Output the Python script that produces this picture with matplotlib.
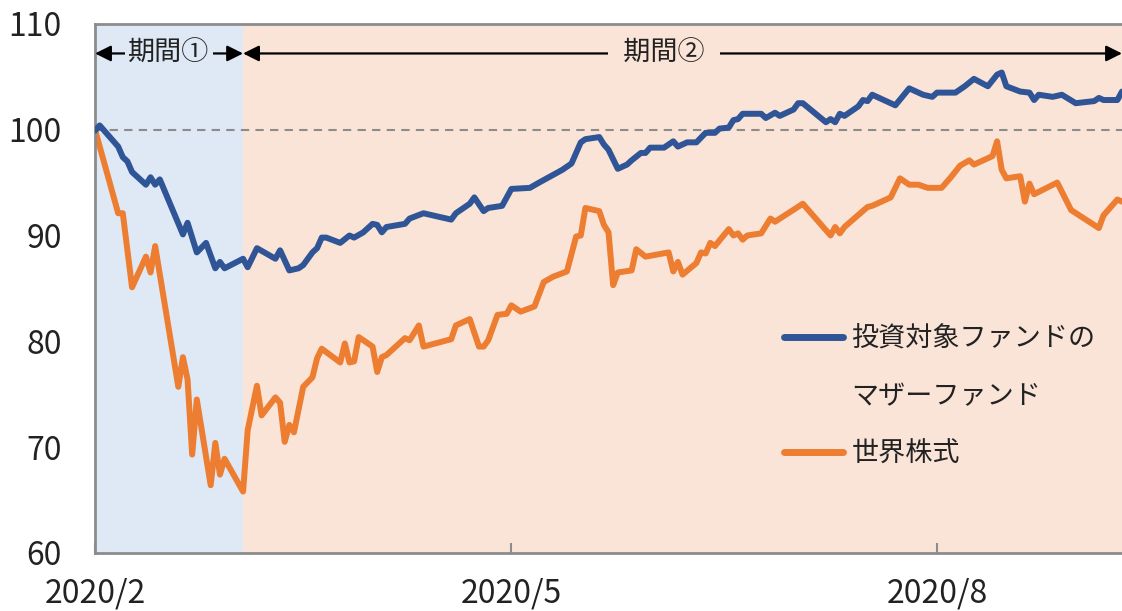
import matplotlib.pyplot as plt
from matplotlib.lines import Line2D
import pandas as pd

plt.rcParams['font.family'] = ['Noto Sans CJK JP', 'DejaVu Sans']

# series (base = 100)
fund_dates = [
    "2020-02-01", "2020-02-02", "2020-02-06", "2020-02-07", "2020-02-08", "2020-02-09",
    "2020-02-12", "2020-02-13", "2020-02-14", "2020-02-15", "2020-02-20", "2020-02-21",
    "2020-02-23", "2020-02-25", "2020-02-27", "2020-02-28", "2020-02-29", "2020-03-04",
    "2020-03-05", "2020-03-07", "2020-03-11", "2020-03-12", "2020-03-14", "2020-03-16",
    "2020-03-17", "2020-03-19", "2020-03-20", "2020-03-21", "2020-03-22", "2020-03-25",
    "2020-03-27", "2020-03-28", "2020-03-30", "2020-04-01", "2020-04-02", "2020-04-03",
    "2020-04-04", "2020-04-08", "2020-04-09", "2020-04-12", "2020-04-18", "2020-04-19",
    "2020-04-22", "2020-04-23", "2020-04-25", "2020-04-26", "2020-04-29", "2020-05-01",
    "2020-05-05", "2020-05-07", "2020-05-12", "2020-05-14", "2020-05-16", "2020-05-17",
    "2020-05-20", "2020-05-21", "2020-05-22", "2020-05-24", "2020-05-26", "2020-05-27",
    "2020-05-29", "2020-05-30", "2020-05-31", "2020-06-03", "2020-06-05", "2020-06-06",
    "2020-06-08", "2020-06-10", "2020-06-12", "2020-06-14", "2020-06-15", "2020-06-17",
    "2020-06-18", "2020-06-19", "2020-06-20", "2020-06-24", "2020-06-25", "2020-06-27",
    "2020-06-28", "2020-07-01", "2020-07-02", "2020-07-03", "2020-07-08", "2020-07-09",
    "2020-07-10", "2020-07-11", "2020-07-12", "2020-07-15", "2020-07-16", "2020-07-17",
    "2020-07-18", "2020-07-23", "2020-07-26", "2020-07-29", "2020-07-31", "2020-08-01",
    "2020-08-05", "2020-08-07", "2020-08-09", "2020-08-12", "2020-08-14", "2020-08-15",
    "2020-08-16", "2020-08-19", "2020-08-21", "2020-08-22", "2020-08-23", "2020-08-26",
    "2020-08-28", "2020-08-31", "2020-09-04", "2020-09-05", "2020-09-06", "2020-09-09",
    "2020-09-10",
]
fund_values = [
    99.9, 100.4, 98.4, 97.4, 97.0, 96.0,
    94.8, 95.5, 94.8, 95.3, 90.1, 91.2,
    88.4, 89.3, 86.9, 87.5, 86.9, 87.8,
    87.0, 88.8, 87.8, 88.6, 86.7, 86.9,
    87.2, 88.4, 88.8, 89.8, 89.8, 89.3,
    90.0, 89.8, 90.3, 91.1, 91.0, 90.3,
    90.8, 91.1, 91.6, 92.1, 91.5, 92.1,
    93.0, 93.6, 92.3, 92.6, 92.8, 94.4,
    94.5, 95.0, 96.2, 96.8, 98.8, 99.1,
    99.3, 98.6, 98.1, 96.3, 96.7, 97.1,
    97.8, 97.8, 98.3, 98.3, 98.9, 98.4,
    98.8, 98.8, 99.7, 99.7, 100.1, 100.2,
    100.9, 101.0, 101.5, 101.5, 101.1, 101.6,
    101.3, 101.9, 102.5, 102.5, 100.7, 101.0,
    100.7, 101.5, 101.3, 102.2, 102.8, 102.7,
    103.3, 102.3, 103.9, 103.3, 103.1, 103.5,
    103.5, 104.1, 104.8, 104.1, 105.2, 105.4,
    104.1, 103.6, 103.5, 102.8, 103.3, 103.1,
    103.3, 102.5, 102.7, 103.0, 102.8, 102.8,
    103.6,
]

world_dates = [
    "2020-02-01", "2020-02-06", "2020-02-07", "2020-02-09", "2020-02-12", "2020-02-13",
    "2020-02-14", "2020-02-19", "2020-02-20", "2020-02-21", "2020-02-22", "2020-02-23",
    "2020-02-26", "2020-02-27", "2020-02-28", "2020-02-29", "2020-03-04", "2020-03-05",
    "2020-03-07", "2020-03-08", "2020-03-11", "2020-03-12", "2020-03-13", "2020-03-14",
    "2020-03-15", "2020-03-17", "2020-03-19", "2020-03-20", "2020-03-21", "2020-03-25",
    "2020-03-26", "2020-03-27", "2020-03-28", "2020-03-29", "2020-04-01", "2020-04-02",
    "2020-04-03", "2020-04-04", "2020-04-08", "2020-04-09", "2020-04-11", "2020-04-12",
    "2020-04-18", "2020-04-19", "2020-04-22", "2020-04-24", "2020-04-25", "2020-04-26",
    "2020-04-28", "2020-04-30", "2020-05-01", "2020-05-03", "2020-05-06", "2020-05-08",
    "2020-05-10", "2020-05-13", "2020-05-15", "2020-05-16", "2020-05-17", "2020-05-20",
    "2020-05-21", "2020-05-22", "2020-05-23", "2020-05-24", "2020-05-27", "2020-05-28",
    "2020-05-30", "2020-06-04", "2020-06-05", "2020-06-06", "2020-06-07", "2020-06-10",
    "2020-06-11", "2020-06-12", "2020-06-13", "2020-06-14", "2020-06-17", "2020-06-18",
    "2020-06-19", "2020-06-20", "2020-06-21", "2020-06-24", "2020-06-26", "2020-06-27",
    "2020-07-03", "2020-07-09", "2020-07-10", "2020-07-11", "2020-07-12", "2020-07-17",
    "2020-07-18", "2020-07-22", "2020-07-24", "2020-07-26", "2020-07-28", "2020-07-30",
    "2020-08-02", "2020-08-04", "2020-08-06", "2020-08-08", "2020-08-09", "2020-08-13",
    "2020-08-14", "2020-08-15", "2020-08-16", "2020-08-19", "2020-08-20", "2020-08-21",
    "2020-08-22", "2020-08-27", "2020-08-30", "2020-09-05", "2020-09-06", "2020-09-09",
    "2020-09-10",
]
world_values = [
    100.0, 92.1, 92.1, 85.1, 88.0, 86.5,
    89.0, 75.7, 78.5, 76.4, 69.3, 74.5,
    66.4, 70.4, 67.4, 68.9, 65.8, 71.6,
    75.8, 73.0, 74.7, 74.2, 70.5, 72.1,
    71.4, 75.7, 76.6, 78.4, 79.3, 78.0,
    79.8, 78.0, 78.1, 80.4, 79.5, 77.1,
    78.5, 78.7, 80.3, 80.1, 81.5, 79.5,
    80.2, 81.5, 82.1, 79.5, 79.5, 80.1,
    82.5, 82.6, 83.4, 82.8, 83.3, 85.6,
    86.1, 86.6, 89.9, 90.0, 92.6, 92.3,
    91.0, 90.3, 85.3, 86.5, 86.7, 88.7,
    88.0, 88.4, 86.6, 87.5, 86.3, 87.4,
    88.4, 88.3, 89.3, 89.0, 90.6, 90.0,
    90.2, 89.6, 90.0, 90.2, 91.6, 91.3,
    93.0, 90.0, 90.8, 90.2, 90.8, 92.7,
    92.8, 93.6, 95.4, 94.8, 94.8, 94.5,
    94.5, 95.5, 96.6, 97.1, 96.7, 97.5,
    98.9, 96.2, 95.4, 95.6, 93.2, 94.9,
    93.9, 95.0, 92.4, 90.7, 91.9, 93.4,
    93.2,
]

fund_label = ["投資対象ファンドの", "マザーファンド"]
world_label = "世界株式"

period_labels = ["期間①", "期間②"]
period_edges = ["2020-02-01", "2020-03-04", "2020-09-10"]

tick_dates = ["2020-02-01", "2020-05-01", "2020-08-01"]
tick_labels = ["2020/2", "2020/5", "2020/8"]

blue = '#2f5597'
orange = '#ed7d31'
shade_1 = '#dee9f5'
shade_2 = '#fae4d7'
grey = '#8c8c8c'
txt = '#222222'

fund_x = pd.to_datetime(fund_dates)
world_x = pd.to_datetime(world_dates)
edges = pd.to_datetime(period_edges)

fig = plt.figure(figsize=(11.22, 6.11), dpi=100)
ax = fig.add_axes([0.0847, 0.095, 0.9153, 0.866])

# background shading for the two periods
ax.axvspan(edges[0], edges[1], color=shade_1, lw=0, zorder=0)
ax.axvspan(edges[1], edges[2], color=shade_2, lw=0, zorder=0)

# base line
ax.axhline(100, color=grey, lw=1.5, ls=(0, (4, 3)), zorder=1)

fund_line, = ax.plot(fund_x, fund_values, color=blue, lw=4.3, solid_joinstyle='round',
                     solid_capstyle='round', zorder=3)
world_line, = ax.plot(world_x, world_values, color=orange, lw=4.3, solid_joinstyle='round',
                      solid_capstyle='round', zorder=2)

# period arrows
arrow_y = 107.2
period_text = [period_labels[0], "  " + period_labels[1] + "  "]
for i, (lab, bg) in enumerate(zip(period_text, [shade_1, shade_2])):
    x0, x1 = edges[i], edges[i + 1]
    ax.annotate('', xy=(x0, arrow_y), xytext=(x1, arrow_y),
                arrowprops=dict(arrowstyle='<|-|>', color='black', lw=1.6,
                                mutation_scale=24, shrinkA=0, shrinkB=0),
                zorder=4)
    xm = x0 + (x1 - x0) / 2 if i == 0 else pd.Timestamp('2020-06-03')
    ax.text(xm, arrow_y, lab, ha='center', va='center', fontsize=19.5,
            color=txt, zorder=5,
            bbox=dict(boxstyle='square,pad=0.12', fc=bg, ec='none'))

ax.set_ylim(60, 110)
ax.set_xlim(edges[0], edges[2])
ax.set_yticks([60, 70, 80, 90, 100, 110])
ax.set_xticks(pd.to_datetime(tick_dates))
ax.set_xticklabels(tick_labels)

ax.tick_params(axis='y', length=0, pad=24, labelsize=23, labelcolor=txt)
ax.tick_params(axis='x', direction='in', length=7, width=1.5, color=grey,
               pad=18, labelsize=23, labelcolor=txt)

for side in ['left', 'bottom', 'top']:
    ax.spines[side].set_color(grey)
    ax.spines[side].set_linewidth(2)
ax.spines['right'].set_visible(False)

# legend: blue handle sits on the first line of its two-line label
blank = Line2D([], [], color='none')
leg = ax.legend([fund_line, blank, world_line],
                [fund_label[0], fund_label[1], world_label],
                loc='upper left', bbox_to_anchor=(0.660, 0.45), frameon=False,
                fontsize=19.5, handlelength=2.2, handletextpad=0.3,
                labelspacing=1.13, borderaxespad=0)
for t in leg.get_texts():
    t.set_color(txt)
for h in leg.legend_handles:
    h.set_linewidth(5)

fig.savefig('out.png', dpi=100)
